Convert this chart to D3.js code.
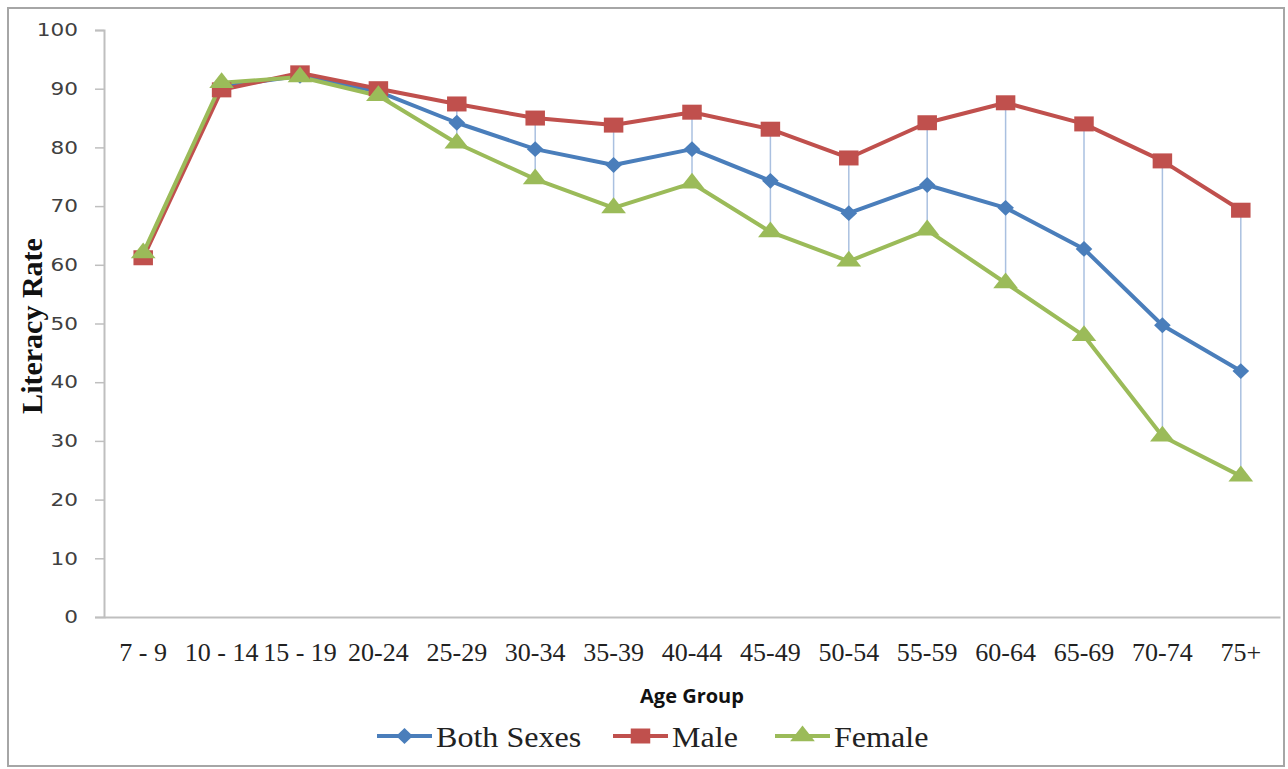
<!DOCTYPE html>
<html><head><meta charset="utf-8">
<script src="https://cdn.jsdelivr.net/npm/d3@7"></script>
<style>body{margin:0;background:#fff}svg{display:block}</style>
</head><body><svg id="c" width="1288" height="769"></svg>
<script>
const categories = ["7 - 9","10 - 14","15 - 19","20-24","25-29","30-34","35-39","40-44","45-49","50-54","55-59","60-64","65-69","70-74","75+"];
const bothSexes = [61.7,90.3,92.2,89.5,84.2,79.7,77.0,79.7,74.3,68.8,73.6,69.7,62.7,49.7,41.9];
const male      = [61.2,89.8,92.7,90.0,87.4,85.0,83.8,86.0,83.1,78.2,84.2,87.6,84.0,77.7,69.3];
const female    = [62.0,91.0,92.0,88.8,80.7,74.6,69.7,73.9,65.6,60.6,65.9,56.9,47.9,30.8,24.0];
const yTicks = [0,10,20,30,40,50,60,70,80,90,100];
const seriesNames = ["Both Sexes","Male","Female"];

const svg = d3.select("#c");
const pL = 104, pR = 1280, pT = 30, pB = 617;

// outer border
svg.append("rect").attr("x",8).attr("y",8).attr("width",1276).attr("height",758)
  .attr("fill","none").attr("stroke","#a6a6a6").attr("stroke-width",2);

const x = d3.scaleBand().domain(categories).range([pL,pR]);
const y = d3.scaleLinear().domain([0,100]).range([pB,pT]);

// y axis
const ysx = 1.2;
const ya = svg.append("g").attr("transform",`translate(${pL},0)`)
  .call(d3.axisLeft(y).tickValues(yTicks).tickSize(9));
ya.select(".domain").attr("stroke","#bfbfbf").attr("stroke-width",2);
ya.selectAll(".tick line").attr("stroke","#bfbfbf").attr("stroke-width",1.5);
ya.selectAll("text").attr("font-family","'DejaVu Sans', Verdana, sans-serif").attr("font-size",18)
  .attr("fill","#404040").attr("x",-26/ysx).attr("transform",`scale(${ysx},1)`);

// x axis
const xa = svg.append("g").attr("transform",`translate(0,${pB})`)
  .call(d3.axisBottom(x).tickSize(0).tickPadding(26));
xa.select(".domain").attr("stroke","#bfbfbf").attr("stroke-width",2);
xa.selectAll("text").attr("font-family","'Liberation Serif','Times New Roman',serif").attr("font-size",26)
  .attr("fill","#222");

// high-low lines
const cx = d => x(d) + x.bandwidth()/2;
svg.append("g").selectAll("line").data(categories).join("line")
  .attr("x1",(d)=>cx(d)).attr("x2",(d)=>cx(d))
  .attr("y1",(d,i)=>y(Math.max(bothSexes[i],male[i],female[i])))
  .attr("y2",(d,i)=>y(Math.min(bothSexes[i],male[i],female[i])))
  .attr("stroke","#aac0e0").attr("stroke-width",1.5);

const colors = ["#4a7ebb","#c0504d","#9bbb59"];
const data = [bothSexes, male, female];
const shapes = [d3.symbolDiamond2, d3.symbolSquare, d3.symbolTriangle];
const sizes = [160, 225, 200];
const stretch = ["scale(1.05,1)","scale(1.3,1)","scale(1.15,0.85)"];

const line = d3.line().x((d,i)=>cx(categories[i])).y(d=>y(d));
[0,1,2].forEach(s=>{
  svg.append("path").datum(data[s]).attr("d",line).attr("fill","none")
    .attr("stroke",colors[s]).attr("stroke-width",4).attr("stroke-linejoin","round");
});
[0,1,2].forEach(s=>{
  svg.append("g").selectAll("path").data(data[s]).join("path")
    .attr("d",d3.symbol().type(shapes[s]).size(sizes[s]))
    .attr("transform",(d,i)=>`translate(${cx(categories[i])},${y(d)}) ${stretch[s]}`)
    .attr("fill",colors[s]);
});

// axis titles
svg.append("text").attr("x",(pL+pR)/2).attr("y",703).attr("text-anchor","middle")
  .attr("font-family","'Open Sans','DejaVu Sans',sans-serif").attr("font-weight","bold").attr("font-size",20)
  .attr("fill","#111").text("Age Group");
svg.append("text").attr("transform","translate(42,326) rotate(-90)").attr("text-anchor","middle")
  .attr("font-family","'Liberation Serif','Times New Roman',serif").attr("font-weight","bold").attr("font-size",30)
  .attr("fill","#111").text("Literacy Rate");

// legend
const legX = [377, 613, 775];
const lg = svg.append("g");
seriesNames.forEach((n,s)=>{
  const g = lg.append("g").attr("transform",`translate(${legX[s]},736)`);
  g.append("line").attr("x1",0).attr("x2",55).attr("stroke",colors[s]).attr("stroke-width",4);
  g.append("path").attr("d",d3.symbol().type(shapes[s]).size(sizes[s])).attr("transform",`translate(27.5,0) ${stretch[s]}`).attr("fill",colors[s]);
  g.append("text").attr("transform","translate(59,11) scale(1.07,1)").attr("font-family","'Liberation Serif','Times New Roman',serif")
    .attr("font-size",30).attr("fill","#222").text(n);
});
</script></body></html>
